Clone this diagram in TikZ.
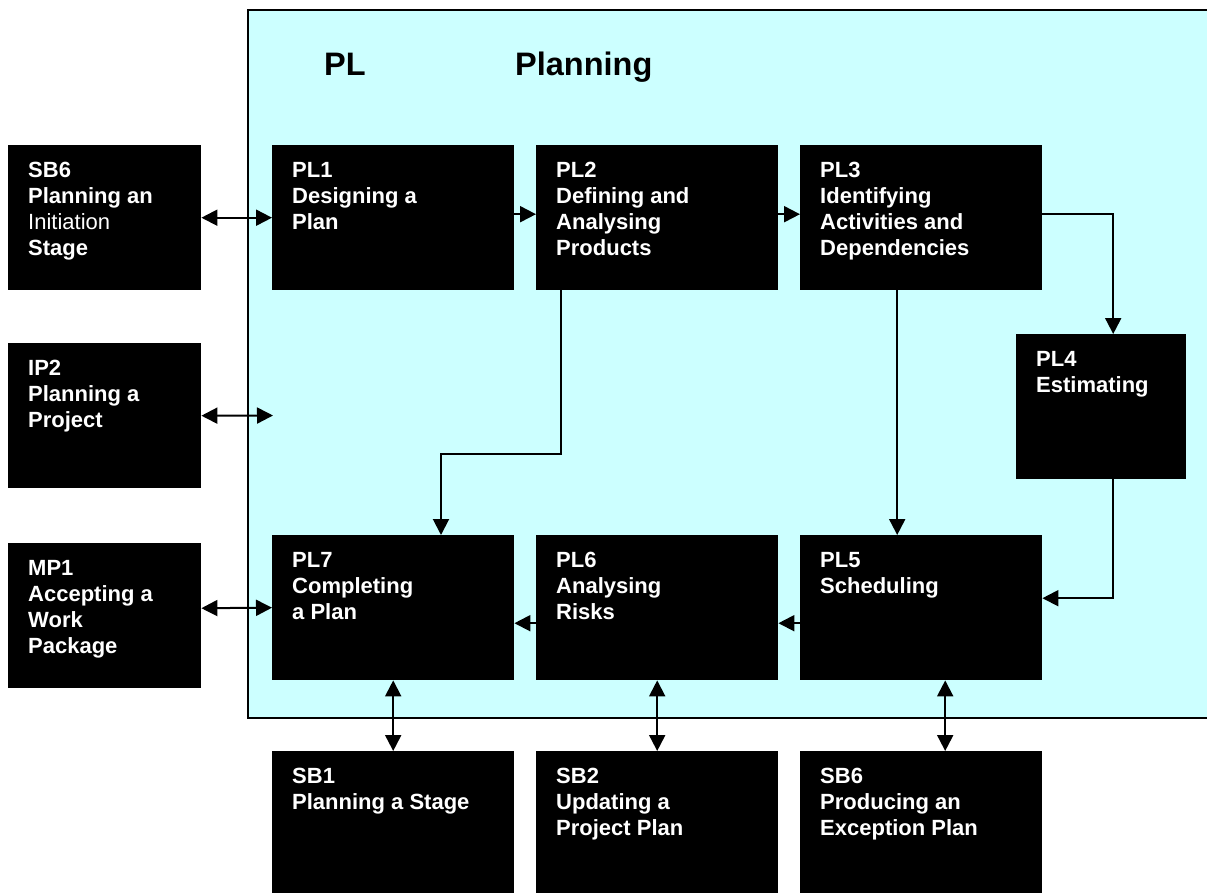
\documentclass[tikz,border=0pt]{standalone}
\usepackage{fontspec}
\setmainfont{Liberation Sans}
\usetikzlibrary{arrows.meta}
\definecolor{panel}{RGB}{204,255,255}
\tikzset{
  procbox/.style={fill=black, draw=none, inner sep=0pt, anchor=north west},
  boxtext/.style={text=white, font=\fontsize{22}{26}\selectfont\bfseries, align=left, inner sep=0pt, anchor=north west},
  titletext/.style={text=black, font=\fontsize{32.5}{36}\selectfont\bfseries, inner sep=0pt, anchor=base west},
  conn/.style={line width=2pt, -{Triangle[length=16pt,width=16pt]}},
  dconn/.style={line width=2pt, {Triangle[length=16pt,width=16pt]}-{Triangle[length=16pt,width=16pt]}},
}
\newcommand\procnode[6]{%
  \node[procbox, minimum width=#4pt, minimum height=#5pt] (#1) at (#2,#3) {};
  \node[boxtext] (#1t) at ([xshift=20pt,yshift=-13.8pt]#1.north west) {\strut #6};}
\begin{document}
\begin{tikzpicture}[x=1pt,y=-1pt]
\useasboundingbox (0,0) rectangle (1207,893);
% frame
\draw[fill=panel, line width=2pt] (248,10) rectangle (1240,718);
\node[titletext] (ttlpl) at (324,75.7) {PL};
\node[titletext] (ttlplan) at (515,75.7) {Planning};
% left column
\procnode{sbsix}{8}{145}{193}{145}{SB6\\Planning an\\\mdseries Initiation\\Stage}
\procnode{iptwo}{8}{343}{193}{145}{IP2\\Planning a\\Project}
\procnode{mpone}{8}{543}{193}{145}{MP1\\Accepting a\\Work\\Package}
% row 1
\procnode{plone}{272}{145}{242}{145}{PL1\\Designing a\\Plan}
\procnode{pltwo}{536}{145}{242}{145}{PL2\\Defining and\\Analysing\\Products}
\procnode{plthree}{800}{145}{242}{145}{PL3\\Identifying\\Activities and\\Dependencies}
\procnode{plfour}{1016}{334}{170}{145}{PL4\\Estimating}
% row 2
\procnode{plseven}{272}{535}{242}{145}{PL7\\Completing\\a Plan}
\procnode{plsix}{536}{535}{242}{145}{PL6\\Analysing\\Risks}
\procnode{plfive}{800}{535}{242}{145}{PL5\\Scheduling}
% row 3
\procnode{sbone}{272}{751}{242}{160}{SB1\\Planning a Stage}
\procnode{sbtwo}{536}{751}{242}{160}{SB2\\Updating a\\Project Plan}
\procnode{sbsixb}{800}{751}{242}{160}{SB6\\Producing an\\Exception Plan}
% connectors
\coordinate (ipend) at (273,415.5);
\coordinate (knee) at (441,454);
\draw[dconn] (sbsix.east) -- (plone.west);
\draw[dconn] (iptwo.east) -- (ipend);
\draw[dconn] ([yshift=7.5pt]mpone.east) -- (plseven.west);
\draw[conn] ([yshift=3.5pt]plone.east) -- ([yshift=3.5pt]pltwo.west);
\draw[conn] ([yshift=3.5pt]pltwo.east) -- ([yshift=3.5pt]plthree.west);
\draw[conn] ([yshift=3.5pt]plthree.east) -| ([xshift=12pt]plfour.north);
\draw[conn] ([xshift=12pt]plfour.south) |- ([yshift=9.5pt]plfive.east);
\draw[conn] ([xshift=-24pt]plthree.south) -- ([xshift=-24pt]plfive.north);
\draw[conn] ([xshift=-96pt]pltwo.south) |- (knee) -- (knee |- plseven.north);
\draw[conn] ([yshift=-15.5pt]plfive.west) -- ([yshift=-15.5pt]plsix.east);
\draw[conn] ([yshift=-15.5pt]plsix.west) -- ([yshift=-15.5pt]plseven.east);
\draw[dconn] (plseven.south) -- (sbone.north);
\draw[dconn] (plsix.south) -- (sbtwo.north);
\draw[dconn] ([xshift=24pt]plfive.south) -- ([xshift=24pt]sbsixb.north);
\end{tikzpicture}
\end{document}
